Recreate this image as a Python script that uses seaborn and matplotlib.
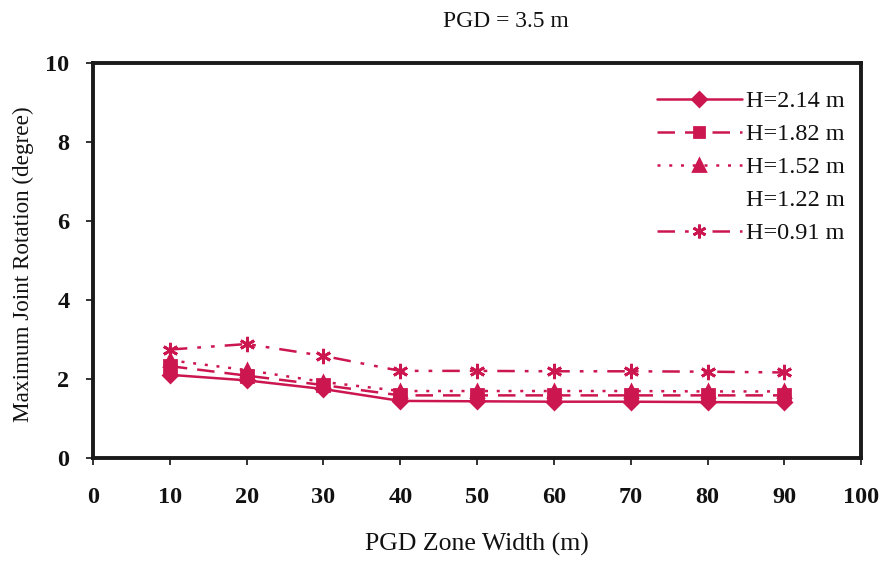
import matplotlib
matplotlib.use("Agg")
import matplotlib.pyplot as plt
from matplotlib.lines import Line2D
import seaborn as sns
import pandas as pd

# PGD zone widths (m) and maximum joint rotation (degree) per burial depth H
width = [10, 20, 30, 40, 50, 60, 70, 80, 90]
h_214 = [2.10, 1.96, 1.74, 1.44, 1.43, 1.42, 1.42, 1.41, 1.40]
h_182 = [2.32, 2.08, 1.84, 1.58, 1.58, 1.58, 1.58, 1.58, 1.58]
h_152 = [2.47, 2.22, 1.92, 1.69, 1.69, 1.69, 1.69, 1.68, 1.68]
h_091 = [2.74, 2.88, 2.58, 2.20, 2.20, 2.19, 2.19, 2.18, 2.16]

labels = ["H=2.14 m", "H=1.82 m", "H=1.52 m", "H=1.22 m", "H=0.91 m"]
x_ticks = [0, 10, 20, 30, 40, 50, 60, 70, 80, 90, 100]
y_ticks = [0, 2, 4, 6, 8, 10]

sns.set_theme(style="white")
plt.rcParams["font.family"] = ["Liberation Serif", "DejaVu Serif"]
plt.rcParams["text.color"] = "#111111"
plt.rcParams["axes.labelcolor"] = "#111111"
plt.rcParams["xtick.color"] = "#111111"
plt.rcParams["ytick.color"] = "#111111"

color = "#cc1650"
fig = plt.figure(figsize=(8.86, 5.61), dpi=100)
ax = fig.add_axes([0.105, 0.184, 0.867, 0.704])

df = pd.DataFrame({
    "width": width * 4,
    "rot": h_214 + h_182 + h_152 + h_091,
    "H": [labels[0]] * 9 + [labels[1]] * 9 + [labels[2]] * 9 + [labels[4]] * 9,
})

styles = {
    labels[0]: dict(ls="-", marker="D", ms=7.5),
    labels[1]: dict(ls=(0, (7, 4)), marker="s", ms=8),
    labels[2]: dict(ls=(0, (1.2, 3.5)), marker="^", ms=9),
    labels[4]: dict(ls=(0, (7, 4, 1.5, 4, 1.5, 4)), marker=(6, 2, 0), ms=11),
}

handles = []
for lab in [labels[0], labels[1], labels[2], labels[4]]:
    st = styles[lab]
    sub = df[df["H"] == lab]
    sns.lineplot(data=sub, x="width", y="rot", ax=ax, color=color,
                 linestyle=st["ls"], marker=st["marker"], markersize=st["ms"],
                 markeredgecolor=color, markeredgewidth=2, linewidth=1.8,
                 legend=False)
    handles.append(Line2D([0], [0], color=color, linestyle=st["ls"],
                          marker=st["marker"], markersize=st["ms"] * 0.9,
                          markeredgecolor=color, markeredgewidth=2,
                          linewidth=1.8))
# H=1.22 m has no drawn series; keep its legend row blank
handles.insert(3, Line2D([0], [0], linestyle="none", marker=None))

ax.set_xlim(0, 100)
ax.set_ylim(0, 10)
ax.set_xticks(x_ticks)
ax.set_yticks(y_ticks)
ax.tick_params(axis="both", direction="out", length=5, width=1.2,
               labelsize=17.5, bottom=True, left=True)
ax.tick_params(axis="x", pad=16)
ax.tick_params(axis="y", pad=12)
for t in ax.get_xticklabels() + ax.get_yticklabels():
    t.set_fontweight("bold")

for sp in ax.spines.values():
    sp.set_color("#1a1a1a")
    sp.set_linewidth(2.8)

ax.set_xlabel("PGD Zone Width (m)", fontsize=18.5, labelpad=18)
ax.set_ylabel("Maximum Joint Rotation (degree)", fontsize=16.7, labelpad=10)
ax.yaxis.set_label_coords(-0.077, 0.49)
fig.text(0.571, 0.962, "PGD = 3.5 m", ha="center", va="center", fontsize=17)

ax.legend(handles, labels, loc="upper right", bbox_to_anchor=(0.992, 0.955),
          frameon=False, fontsize=17.5, handlelength=3.5, handletextpad=0.2,
          labelspacing=0.45, borderaxespad=0.0)

fig.savefig("out.png", dpi=100)
